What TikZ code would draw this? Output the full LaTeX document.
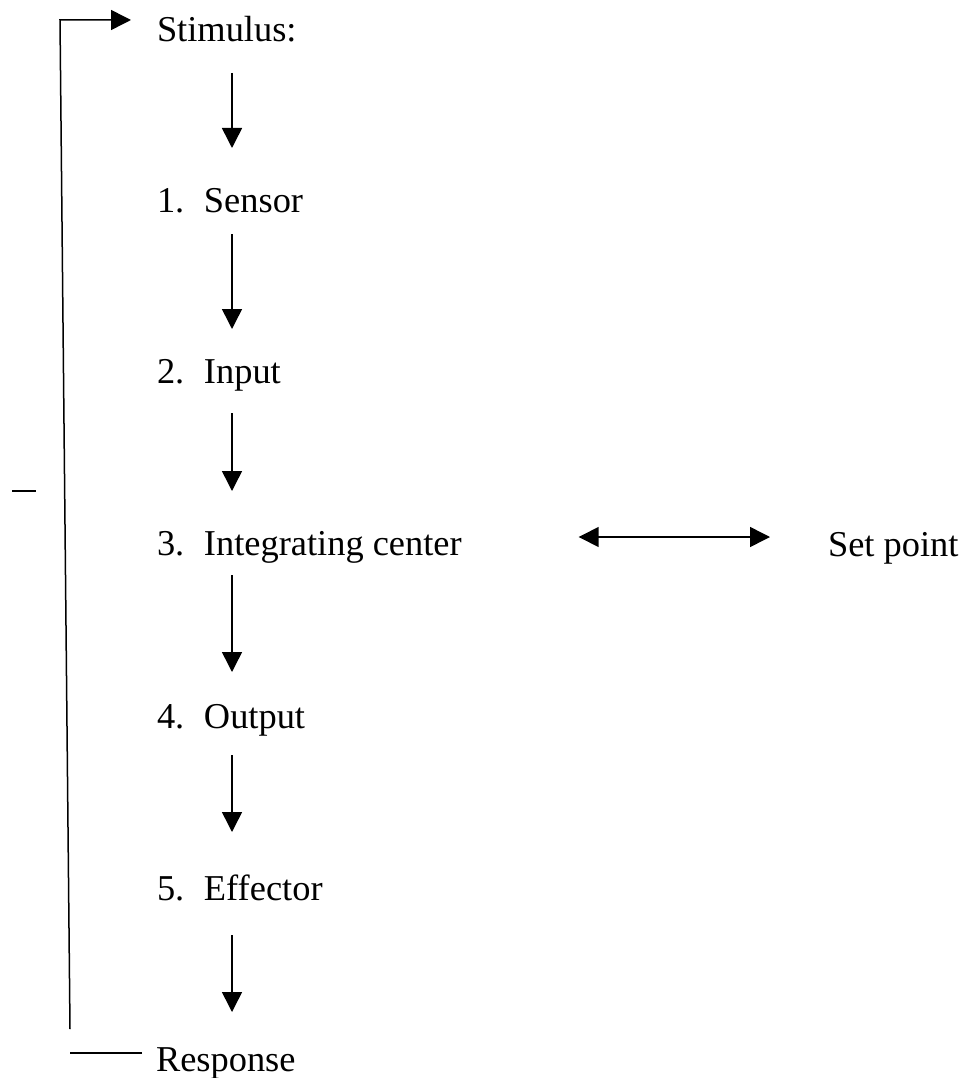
\documentclass[tikz,border=0pt]{standalone}
\usepackage{fontspec}
\setmainfont{Liberation Serif}
\usetikzlibrary{arrows.meta,calc}
\tikzset{
  lbl/.style={anchor=base west,inner sep=0pt,outer sep=0pt,font=\fontsize{36.4}{40}\selectfont},
  ln/.style={line width=1.5pt},
  arr/.style={ln,-{Triangle[length=20pt,width=20pt]}},
  darr/.style={ln,{Triangle[length=20pt,width=20pt]}-{Triangle[length=20pt,width=20pt]}}
}
\newcommand{\numbox}[1]{\makebox[47pt][l]{#1}}
\begin{document}
\begin{tikzpicture}[x=1pt,y=-1pt]
\useasboundingbox (0,0) rectangle (965,1078);
\node[lbl] (stim)  at (157,42)   {Stimulus:};
\node[lbl] (sens)  at (157,212)  {\numbox{1.}Sensor};
\node[lbl] (inp)   at (157,383)  {\numbox{2.}Input};
\node[lbl] (integ) at (157,555)  {\numbox{3.}Integrating center};
\node[lbl] (outp)  at (157,728)  {\numbox{4.}Output};
\node[lbl] (eff)   at (157,900)  {\numbox{5.}Effector};
\node[lbl] (resp)  at (156,1071) {Response};
\node[lbl] (setpt) at (828,556)  {Set point};
% vertical chain
\draw[arr] ($(stim.base west)+(75,31)$) -- ($(sens.base west)+(75,-64)$);
\draw[arr] ($(sens.base west)+(75,22)$) -- ($(inp.base west)+(75,-54)$);
\draw[arr] ($(inp.base west)+(75,30)$) -- ($(integ.base west)+(75,-64)$);
\draw[arr] ($(integ.base west)+(75,20)$) -- ($(outp.base west)+(75,-56)$);
\draw[arr] ($(outp.base west)+(75,27)$) -- ($(eff.base west)+(75,-68)$);
\draw[arr] ($(eff.base west)+(75,35)$) -- ($(resp.base west)+(76,-59)$);
% set point
\draw[darr] ($(integ.base east)+(117,-18)$) -- ($(setpt.base west)+(-58,-19)$);
% feedback loop
\coordinate (fbBot) at (70,1029);
\coordinate (fbTop) at (60,20);
\draw[ln] ($(resp.base west)+(-14,-18)$) -- ++(-72,0);
\draw[arr] (fbBot) -- (fbTop) -- ($(stim.base west)+(-26,-22)$);
% stray dash
\draw[ln] (12,491) -- (36,491);
\end{tikzpicture}
\end{document}
